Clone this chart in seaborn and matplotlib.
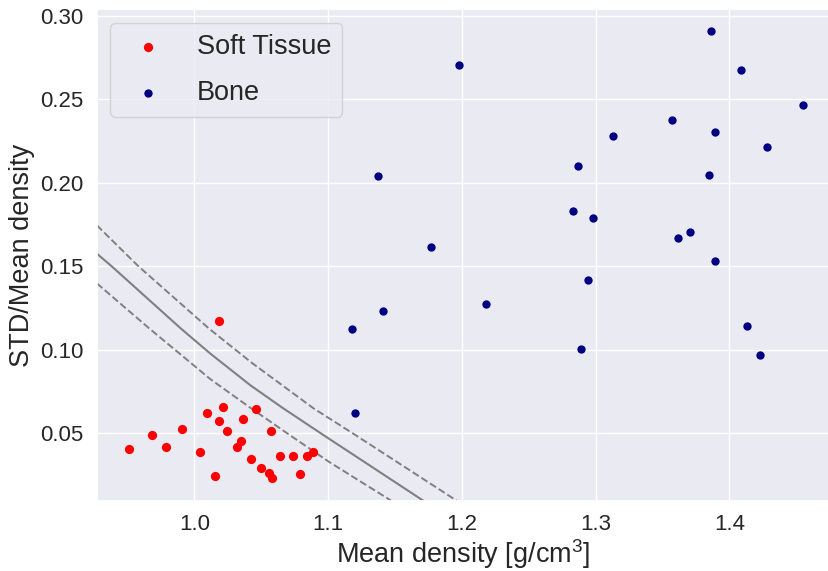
import numpy as np
import pandas as pd
import matplotlib
matplotlib.use("Agg")
import matplotlib.pyplot as plt
import seaborn as sns

# soft tissue samples (mean density, std/mean)
soft_x = [0.951, 0.968, 0.979, 0.991, 1.004, 1.009, 1.015, 1.018, 1.018, 1.021, 1.024,
          1.032, 1.035, 1.036, 1.042, 1.046, 1.050, 1.056, 1.057, 1.058, 1.064, 1.074,
          1.079, 1.084, 1.089]
soft_y = [0.0406, 0.0490, 0.0418, 0.0526, 0.0386, 0.0620, 0.0244, 0.1170, 0.0572, 0.0656,
          0.0512, 0.0418, 0.0452, 0.0584, 0.0342, 0.0644, 0.0292, 0.0260, 0.0510, 0.0232,
          0.0362, 0.0362, 0.0252, 0.0362, 0.0388]

# bone samples
bone_x = [1.386, 1.198, 1.409, 1.455, 1.357, 1.389, 1.313, 1.428, 1.287, 1.385, 1.137,
          1.283, 1.298, 1.371, 1.362, 1.177, 1.389, 1.294, 1.218, 1.141, 1.118, 1.413,
          1.289, 1.423, 1.120]
bone_y = [0.2910, 0.2706, 0.2678, 0.2465, 0.2376, 0.2306, 0.2279, 0.2216, 0.2103, 0.2049,
          0.2043, 0.1833, 0.1791, 0.1707, 0.1671, 0.1617, 0.1533, 0.1415, 0.1272, 0.1230,
          0.1123, 0.1140, 0.1002, 0.0969, 0.0618]

# decision boundary and margins
solid_x = [0.927, 0.938, 0.990, 1.012, 1.042, 1.066, 1.096, 1.171]
solid_y = [0.1575, 0.150, 0.1125, 0.0975, 0.0785, 0.0650, 0.0490, 0.0095]
upper_x = [0.927, 0.958, 1.011, 1.043, 1.089, 1.118, 1.196]
upper_y = [0.1745, 0.150, 0.1125, 0.0920, 0.0648, 0.0500, 0.0095]
lower_x = [0.927, 0.966, 1.012, 1.042, 1.069, 1.101, 1.147]
lower_y = [0.1397, 0.1128, 0.0822, 0.0650, 0.0500, 0.0325, 0.0095]

x_ticks = [1.0, 1.1, 1.2, 1.3, 1.4]
y_ticks = [0.05, 0.10, 0.15, 0.20, 0.25, 0.30]

sns.set_theme(style="darkgrid")
plt.rcParams["font.family"] = ["Liberation Sans", "DejaVu Sans"]
plt.rcParams["mathtext.default"] = "regular"

fig = plt.figure(figsize=(8.29, 5.71), dpi=100)
ax = fig.add_axes([0.1167, 0.1231, 0.8833, 0.8606])

sns.lineplot(x=solid_x, y=solid_y, ax=ax, color="gray", linewidth=1.5, sort=False)
sns.lineplot(x=upper_x, y=upper_y, ax=ax, color="gray", linewidth=1.4,
             linestyle="--", sort=False)
sns.lineplot(x=lower_x, y=lower_y, ax=ax, color="gray", linewidth=1.4,
             linestyle="--", sort=False)

sns.scatterplot(x=soft_x, y=soft_y, ax=ax, color="red", s=44, linewidth=0,
                label="Soft Tissue", zorder=3)
sns.scatterplot(x=bone_x, y=bone_y, ax=ax, color="navy", s=36, linewidth=0,
                label="Bone", zorder=3)

ax.set_xlim(0.9269, 1.4746)
ax.set_ylim(0.0094, 0.304)
ax.set_xticks(x_ticks)
ax.set_yticks(y_ticks)
ax.tick_params(labelsize=16)
ax.set_xlabel("Mean density [g/cm$^3$]", fontsize=19.5, labelpad=2)
ax.set_ylabel("STD/Mean density", fontsize=19.5)
ax.legend(loc="upper left", fontsize=19.5, handletextpad=0.8, labelspacing=0.75)

fig.savefig("out.png", dpi=100)
